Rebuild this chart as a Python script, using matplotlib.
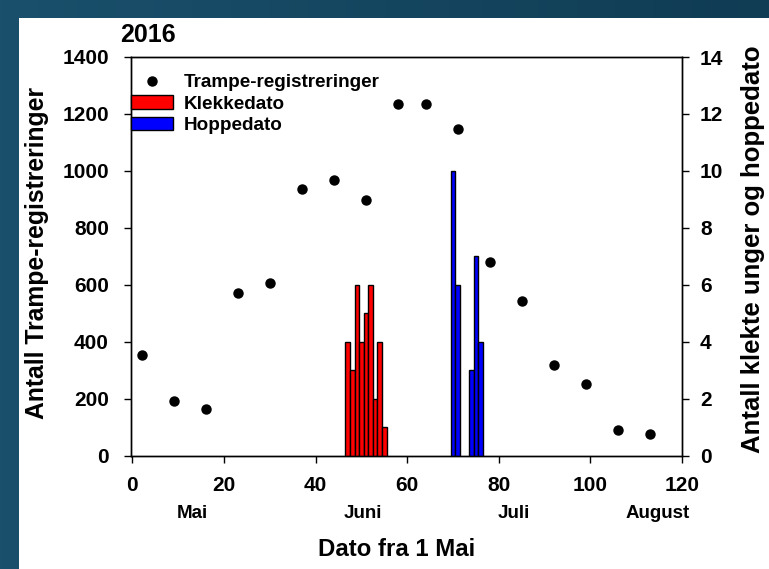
import matplotlib
matplotlib.use("Agg")
import matplotlib.pyplot as plt
from matplotlib.patches import Rectangle, Patch
from matplotlib.lines import Line2D
import matplotlib.transforms as mtransforms
import numpy as np

plt.rcParams['font.family'] = ['Liberation Sans', 'DejaVu Sans']
plt.rcParams['font.weight'] = 'bold'

# Trampe-registreringer (venstre akse)
trampe_dag = [2, 9, 16, 23, 30, 37, 44, 51, 58, 64, 71, 78, 85, 92, 99, 106, 113]
trampe_antall = [352, 192, 164, 572, 606, 935, 968, 897, 1234, 1234, 1148, 681, 542, 318, 250, 89, 74]

# Klekkedato (hoyre akse)
klekke_dag = [47, 48, 49, 50, 51, 52, 53, 54, 55]
klekke_antall = [4, 3, 6, 4, 5, 6, 2, 4, 1]

# Hoppedato (hoyre akse)
hoppe_dag = [70, 71, 74, 75, 76]
hoppe_antall = [10, 6, 3, 7, 4]

maaned_navn = ['Mai', 'Juni', 'Juli', 'August']
maaned_pos = [13.1, 50.4, 83.3, 114.6]

W, H = 769, 569
fig = plt.figure(figsize=(W / 100, H / 100), dpi=100)

# dark blue background with a little gradient, white panel on top
grad = np.linspace(0, 1, W)[None, :, None]
c0 = np.array([0x1a, 0x50, 0x6c]) / 255
c1 = np.array([0x10, 0x3c, 0x54]) / 255
bg = c0 * (1 - grad) + c1 * grad
bg = np.repeat(bg, H, axis=0)
fig.figimage(bg, xo=0, yo=0, zorder=-3)
fig.add_artist(Rectangle((19 / W, 0), 1 - 19 / W, 1 - 18 / H, transform=fig.transFigure,
                         facecolor='white', edgecolor='none', zorder=-2))

ax = fig.add_axes([131 / W, 1 - 455.5 / H, (682 - 131) / W, (455.5 - 57) / H])
ax.set_facecolor('none')
ax2 = ax.twinx()

ax.plot(trampe_dag, trampe_antall, 'o', color='black', markersize=6.5, zorder=5)
ax2.bar(klekke_dag, klekke_antall, width=1.0, color='#ff0000', edgecolor='black', linewidth=1.0)
ax2.bar(hoppe_dag, hoppe_antall, width=1.0, color='#0000ff', edgecolor='black', linewidth=1.0)

ax.set_xlim(-0.3, 120)
ax.set_ylim(0, 1400)
ax2.set_ylim(0, 14)
ax.set_xticks(range(0, 121, 20))
ax.set_yticks(range(0, 1401, 200))
ax2.set_yticks(range(0, 15, 2))

ax.tick_params(axis='both', direction='out', length=5, width=1, labelsize=15)
ax.tick_params(axis='x', pad=10)
ax.tick_params(axis='y', pad=11)
ax2.tick_params(axis='y', direction='out', length=5, width=1, labelsize=15, pad=8)
for a in (ax, ax2):
    for s in a.spines.values():
        s.set_linewidth(1)

fig.text(37 / W, 1 - 253 / H, 'Antall Trampe-registreringer', rotation=90,
         ha='center', va='center', fontsize=17.8, fontweight='bold')
fig.text(753 / W, 1 - 249 / H, 'Antall klekte unger og hoppedato', rotation=90,
         ha='center', va='center', fontsize=18.5, fontweight='bold')
fig.text(397 / W, 1 - 550 / H, 'Dato fra 1 Mai', ha='center', va='center',
         fontsize=17.3, fontweight='bold')
fig.text(148 / W, 1 - 35 / H, '2016', ha='center', va='center', fontsize=18, fontweight='bold')

trans = mtransforms.blended_transform_factory(ax.transData, fig.transFigure)
for navn, pos in zip(maaned_navn, maaned_pos):
    ax.text(pos, 1 - 513 / H, navn, transform=trans, ha='center', va='center',
            fontsize=13.5, fontweight='bold')

handles = [Line2D([], [], marker='o', linestyle='none', color='black', markersize=6.5),
           Patch(facecolor='#ff0000', edgecolor='black', linewidth=1.0),
           Patch(facecolor='#0000ff', edgecolor='black', linewidth=1.0)]
labels = ['Trampe-registreringer', 'Klekkedato', 'Hoppedato']
ax2.legend(handles, labels, loc='upper left', bbox_to_anchor=(130.7 / W, 1 - 74 / H),
           bbox_transform=fig.transFigure, frameon=False,
           borderpad=0, borderaxespad=0, handlelength=2.25, handletextpad=0.55,
           labelspacing=0.22, prop={'weight': 'bold', 'size': 13.6})

fig.savefig('out.png', dpi=100)
